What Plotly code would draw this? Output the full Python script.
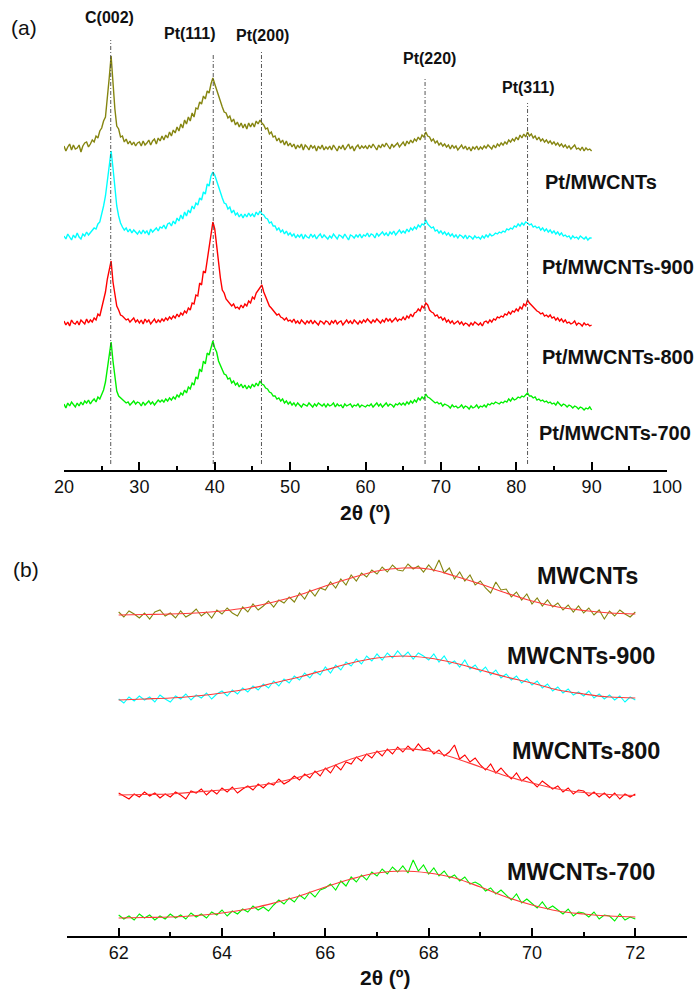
import plotly.graph_objects as go

# ---------------- Panel (a): full XRD patterns ----------------
TWO_THETA_A_START = 20.0
TWO_THETA_A_STEP = 0.25
SAMPLES_A = ["Pt/MWCNTs", "Pt/MWCNTs-900", "Pt/MWCNTs-800", "Pt/MWCNTs-700"]

I_PT_MWCNTS = [
    2, -3, 1, 4, -2, 3, -1, 0, 3, -4, 2, 5, 6, 1, 4, 8, 6, 12, 10, 17,
    20, 27, 31, 48, 70, 92, 60, 39, 22, 19, 11, 12, 6, 9, 4, 7, 3, 6, 2, 5,
    6, 2, 7, 3, 5, 8, 3, 7, 9, 4, 10, 7, 12, 8, 13, 10, 16, 12, 18, 15,
    21, 17, 24, 20, 28, 24, 31, 27, 35, 31, 40, 39, 46, 44, 52, 49, 57, 55, 64, 70,
    64, 58, 51, 45, 41, 36, 35, 30, 32, 26, 29, 23, 26, 21, 25, 20, 24, 19, 25, 21,
    25, 21, 27, 24, 28, 25, 23, 19, 20, 14, 16, 11, 12, 7, 10, 5, 8, 3, 7, 2,
    5, 1, 4, -1, 3, 0, 4, -2, 3, 1, -2, 3, 0, 2, -3, 2, -1, 3, -2, 1,
    -1, 2, -2, 3, 0, -3, 2, -1, 3, -2, 1, 4, -1, 2, -3, 1, 3, -1, 2, 0,
    2, -1, 3, 0, 4, 1, -2, 3, 0, 4, 1, 5, 2, -1, 4, 1, 3, 5, 1, 4,
    6, 2, 7, 4, 8, 5, 9, 7, 11, 8, 13, 11, 16, 12, 11, 7, 9, 5, 7, 3,
    5, 2, 4, 1, 3, -1, 3, 0, 2, -2, 1, 3, -1, 2, -2, 1, -3, 1, -1, 2,
    -2, 1, -1, 2, 0, 3, 1, -1, 3, 0, 4, 2, 5, 3, 6, 4, 8, 6, 9, 7,
    11, 8, 13, 10, 14, 11, 16, 12, 14, 10, 12, 8, 11, 7, 9, 6, 8, 5, 7, 4,
    6, 3, 5, 2, 4, 1, 3, 0, 2, -1, 1, 3, -1, 0, -2, 1, -3, 0, -2, -1,
    -3,
]
I_PT_MWCNTS_900 = [
    1, -2, 3, 0, -3, 2, -1, 4, 0, -2, 3, 1, 5, 2, 4, 7, 9, 8, 13, 15,
    22, 31, 41, 56, 72, 86, 69, 52, 31, 21, 14, 10, 7, 9, 5, 8, 4, 7, 5, 3,
    6, 3, 7, 4, 6, 2, 8, 5, 7, 9, 6, 10, 9, 12, 8, 13, 14, 11, 16, 13,
    19, 16, 22, 18, 25, 21, 27, 24, 31, 28, 34, 32, 39, 37, 45, 43, 53, 51, 61, 65,
    62, 56, 51, 43, 39, 34, 33, 28, 30, 24, 27, 22, 24, 20, 23, 19, 23, 20, 24, 21,
    23, 20, 25, 22, 26, 23, 22, 19, 18, 14, 15, 11, 11, 7, 9, 5, 7, 3, 6, 2,
    4, 1, 3, -1, 2, 0, 3, -2, 2, 0, -1, 3, 0, 2, -2, 1, 3, -1, 2, 0,
    -2, 1, -1, 3, 0, -2, 2, 1, -1, 3, 0, -3, 2, 1, -1, 2, 0, 3, -1, 2,
    1, 4, 0, 3, 2, -1, 4, 1, 3, 5, 2, 4, 1, 5, 3, 6, 2, 5, 7, 4,
    6, 4, 8, 5, 9, 7, 10, 8, 12, 10, 13, 12, 17, 13, 11, 9, 10, 6, 7, 4,
    6, 3, 5, 2, 4, 1, 3, 0, 2, -1, 2, 1, -1, 2, -2, 1, 0, -2, 1, -1,
    0, -2, 1, -1, 2, 0, 3, 1, 2, 4, 3, 5, 4, 6, 5, 8, 7, 9, 8, 11,
    10, 13, 11, 14, 12, 15, 14, 12, 13, 10, 11, 9, 10, 7, 9, 6, 8, 5, 7, 4,
    6, 3, 5, 2, 4, 1, 2, 0, 1, -2, 1, -1, 0, -2, 1, -1, -2, 0, -3, -1,
    -1,
]
I_PT_MWCNTS_800 = [
    2, -2, 1, -3, 3, 0, -1, 2, -2, 3, 1, -1, 4, 0, 3, 1, 5, 3, 9, 7,
    15, 23, 31, 44, 55, 62, 41, 29, 17, 13, 8, 7, 5, 3, 4, 1, 3, 5, 1, 3,
    0, 3, -1, 4, 1, 3, -1, 2, 4, 0, 3, 1, 4, 2, 5, 3, 6, 4, 7, 5,
    9, 6, 10, 8, 12, 10, 15, 13, 20, 19, 28, 27, 40, 38, 52, 50, 63, 72, 84, 101,
    94, 76, 57, 45, 33, 30, 24, 22, 20, 17, 19, 15, 16, 14, 18, 15, 19, 17, 22, 20,
    26, 24, 30, 33, 36, 38, 31, 26, 21, 17, 15, 13, 11, 8, 9, 6, 5, 3, 5, 2,
    3, 1, 4, 0, 2, -1, 3, 1, -1, 2, 0, 3, -1, 2, 0, -2, 2, 1, -1, 2,
    1, -2, 2, 0, 3, -1, 1, 2, -2, 1, 3, 0, 2, -1, 3, 1, -1, 2, 0, 3,
    1, 4, 2, 0, 3, 1, 4, 2, 0, 3, 1, 5, 2, 4, 1, 3, 5, 2, 4, 3,
    6, 3, 7, 5, 9, 6, 10, 11, 14, 12, 17, 15, 20, 18, 13, 11, 10, 7, 8, 5,
    6, 3, 5, 1, 3, 0, 2, -1, 1, 2, -1, 1, -2, 0, -1, -3, 0, -2, 1, -1,
    -2, 0, -3, 1, 2, 0, 3, 1, 4, 3, 6, 5, 7, 6, 9, 8, 11, 9, 12, 11,
    14, 12, 16, 14, 19, 17, 23, 20, 18, 15, 14, 12, 11, 9, 10, 7, 8, 6, 8, 5,
    6, 3, 5, 2, 4, 1, 3, 0, 1, -1, 0, 2, -2, 0, -1, -3, 0, -2, -1, -3,
    -2,
]
I_PT_MWCNTS_700 = [
    1, -3, 2, -1, 3, 0, -2, 2, -1, 3, 0, 4, 2, 5, 1, 4, 6, 3, 8, 6,
    11, 15, 23, 36, 51, 63, 44, 26, 14, 9, 7, 5, 4, 2, 3, 0, 2, 4, 1, 3,
    2, -1, 3, 0, 2, 4, 1, 3, 0, 2, 5, 3, 5, 3, 6, 4, 7, 5, 8, 6,
    10, 8, 12, 10, 15, 12, 18, 16, 22, 20, 28, 26, 36, 33, 44, 41, 52, 50, 58, 64,
    57, 53, 44, 40, 36, 31, 30, 26, 27, 22, 24, 20, 22, 18, 21, 17, 20, 16, 19, 17,
    21, 18, 22, 19, 24, 21, 20, 17, 16, 13, 12, 9, 9, 6, 7, 4, 6, 2, 4, 1,
    3, 0, 2, -1, 2, 0, -2, 1, 0, -1, 2, 0, -2, 1, -1, 2, 0, -1, 1, -2,
    1, -1, 0, 2, -2, 1, -1, 0, -3, 1, -1, 0, 1, -2, 0, -1, 1, -2, 0, -1,
    -2, 0, -1, 1, -2, 0, 2, -1, 1, -2, 0, 2, -1, 1, 0, -2, 1, 0, 2, 0,
    2, 0, 3, 1, 4, 2, 5, 3, 7, 5, 8, 6, 11, 8, 7, 5, 4, 2, 3, 1,
    2, -1, 1, 0, -1, -3, 0, -2, -1, -3, -2, 0, -3, -1, -2, -4, -1, -3, -2, 0,
    -3, -1, -2, 0, -2, 1, 0, 2, 1, 3, 2, 1, 3, 2, 4, 3, 6, 4, 7, 5,
    6, 8, 7, 9, 8, 10, 12, 9, 9, 7, 8, 5, 6, 4, 5, 3, 4, 2, 3, 1,
    2, 0, 3, 1, -1, 1, 0, -2, 0, -1, -3, -1, -2, -4, -2, -3, -5, -3, -4, -2,
    -5,
]
STACK_OFFSET_A = [322, 233, 147, 65]

PEAK_POS = [26.2, 39.8, 46.2, 67.9, 81.5]
PEAK_LABELS = ["C(002)", "Pt(111)", "Pt(200)", "Pt(220)", "Pt(311)"]

# ---------------- Panel (b): Pt(220) region with fits ----------------
TWO_THETA_B_START = 62.0
TWO_THETA_B_STEP = 0.1
FIT_B_STEP = 0.5
SAMPLES_B = ["MWCNTs", "MWCNTs-900", "MWCNTs-800", "MWCNTs-700"]

B_MWCNTS = [
    3, -2, 4, 1, -3, 2, -4, 3, 5, -1, 2, -3, 4, -2, 1, 6, -1, 3, -3, 5,
    1, 7, 2, -1, 8, 3, 11, 5, 9, 14, 8, 15, 12, 18, 13, 22, 16, 25, 19, 27,
    25, 33, 27, 36, 30, 40, 34, 42, 38, 45, 41, 48, 43, 50, 45, 44, 51, 46, 49, 43,
    50, 44, 55, 42, 47, 36, 43, 34, 40, 30, 34, 27, 22, 33, 25, 26, 18, 23, 15, 21,
    11, 17, 9, 15, 8, 12, 5, 10, 3, 9, 2, 7, 0, 5, -4, 4, -1, 5, 1, -2,
    3,
]
B_MWCNTS_900 = [
    1, -3, 3, -1, 4, 0, 3, -2, 5, 1, -2, 4, 1, 6, 0, 5, 2, 7, 1, 6,
    9, 4, 10, 6, 12, 8, 14, 10, 16, 12, 19, 14, 21, 17, 24, 20, 27, 22, 29, 25,
    33, 27, 35, 30, 38, 34, 41, 36, 44, 39, 46, 40, 47, 42, 49, 43, 48, 41, 47, 44,
    40, 46, 38, 44, 36, 39, 33, 40, 31, 35, 28, 33, 25, 30, 22, 26, 20, 24, 17, 21,
    15, 19, 12, 16, 9, 13, 7, 11, 5, 8, 4, 9, 2, 6, 1, 5, 0, 4, -2, 3,
    0,
]
B_MWCNTS_800 = [
    2, -1, -4, 1, -2, 3, -1, 2, -3, 1, -2, 3, 0, -4, 4, 2, 6, 0, 5, 1,
    7, 3, 8, 2, 6, 9, 5, 11, 7, 12, 10, 16, 11, 14, 19, 15, 21, 17, 24, 19,
    27, 22, 30, 25, 33, 31, 38, 34, 41, 37, 44, 39, 46, 41, 48, 43, 49, 44, 51, 45,
    47, 41, 45, 39, 43, 50, 36, 40, 33, 37, 30, 25, 31, 22, 27, 21, 16, 22, 14, 18,
    13, 8, 14, 10, 6, 9, 3, 7, 1, 5, 4, -1, 3, -2, 2, -3, 2, -4, 1, -2,
    1,
]
B_MWCNTS_700 = [
    3, -1, 2, -2, 4, 0, 3, -2, 2, -1, 4, 0, 3, -1, 5, 1, 4, 0, 6, 3,
    8, 2, 7, 4, 9, 6, 12, 8, 11, 7, 13, 18, 14, 20, 16, 23, 19, 26, 21, 28,
    30, 34, 28, 37, 32, 41, 36, 43, 38, 46, 42, 49, 44, 51, 46, 52, 45, 58, 47, 53,
    44, 50, 42, 47, 40, 43, 37, 41, 34, 36, 33, 27, 30, 24, 28, 23, 18, 24, 15, 19,
    14, 10, 16, 9, 12, 8, 4, 9, 2, 6, 5, 1, 6, -1, 3, 2, -3, 4, -2, 1,
    -1,
]
FIT_MWCNTS = [0, 0.5, 1, 2, 4, 7.5, 13, 20, 29, 37, 44, 47, 46, 39, 31, 22, 14, 8, 4.5, 2, 1]
FIT_MWCNTS_900 = [0, 1, 2, 4, 7, 11, 17, 23, 30, 37, 42, 44, 42, 37, 30, 23, 17, 10, 6, 3, 2]
FIT_MWCNTS_800 = [0, 0.5, 1, 3, 5, 8, 12, 18, 26, 36, 43, 46, 44, 37, 28, 19, 12, 6, 2.5, 0.5, -0.5]
FIT_MWCNTS_700 = [0, 0.5, 1, 2.5, 5, 9, 15, 22, 31, 39, 45, 47, 45, 40, 31, 21, 13, 7, 4, 2, 1]
STACK_OFFSET_B = [321, 236, 141, 18]

COLORS = ["#858510", "#00FFFF", "#FF0000", "#00F000"]
FIT_COLOR = "#FF3B3B"
FONT = "Liberation Sans, Arial, sans-serif"

W, H = 698, 992


def grid(start, step, n):
    return [round(start + step * i, 4) for i in range(n)]


fig = go.Figure()

series_a = [I_PT_MWCNTS, I_PT_MWCNTS_900, I_PT_MWCNTS_800, I_PT_MWCNTS_700]
xa = grid(TWO_THETA_A_START, TWO_THETA_A_STEP, len(I_PT_MWCNTS))
for name, ys, off, col in zip(SAMPLES_A, series_a, STACK_OFFSET_A, COLORS):
    fig.add_trace(go.Scatter(x=xa, y=[v + off for v in ys], mode="lines", name=name,
                             line=dict(color=col, width=1.4), xaxis="x", yaxis="y",
                             showlegend=False))

series_b = [B_MWCNTS, B_MWCNTS_900, B_MWCNTS_800, B_MWCNTS_700]
fits_b = [FIT_MWCNTS, FIT_MWCNTS_900, FIT_MWCNTS_800, FIT_MWCNTS_700]
xb = grid(TWO_THETA_B_START, TWO_THETA_B_STEP, len(B_MWCNTS))
xf = grid(TWO_THETA_B_START, FIT_B_STEP, len(FIT_MWCNTS))
for name, ys, fs, off, col in zip(SAMPLES_B, series_b, fits_b, STACK_OFFSET_B, COLORS):
    fig.add_trace(go.Scatter(x=xb, y=[v + off for v in ys], mode="lines", name=name,
                             line=dict(color=col, width=1.1), xaxis="x2", yaxis="y2",
                             showlegend=False))
    fig.add_trace(go.Scatter(x=xf, y=[v + off for v in fs], mode="lines", name=name + " fit",
                             line=dict(color=FIT_COLOR, width=1.2, shape="spline"),
                             xaxis="x2", yaxis="y2", showlegend=False))

# reference lines at the peak positions
LINE_TOPS = [430, 415, 420, 393, 367]
shapes = []
for p, top in zip(PEAK_POS, LINE_TOPS):
    shapes.append(dict(type="line", xref="x", yref="y", x0=p, x1=p, y0=6, y1=top,
                       line=dict(color="#444444", width=0.9, dash="4px,2px,1px,2px")))

annotations = []
LABEL_POS = [(26.1, 453), (36.7, 437), (46.4, 435), (68.5, 412), (81.5, 383)]
for txt, (lx, ly) in zip(PEAK_LABELS, LABEL_POS):
    annotations.append(dict(x=lx, y=ly, xref="x", yref="y", text="<b>%s</b>" % txt,
                            showarrow=False, font=dict(family=FONT, size=16, color="#111111"),
                            xanchor="center", yanchor="middle"))

SAMPLE_A_POS = [(83.5, 288), (83.1, 203), (83.2, 113), (82.8, 37)]
for txt, (lx, ly) in zip(SAMPLES_A, SAMPLE_A_POS):
    annotations.append(dict(x=lx, y=ly, xref="x", yref="y", text="<b>%s</b>" % txt,
                            showarrow=False, font=dict(family=FONT, size=20, color="#111111"),
                            xanchor="left", yanchor="middle"))

SAMPLE_B_POS = [(70.06, 360), (69.48, 280), (69.57, 185), (69.48, 64)]
for txt, (lx, ly) in zip(SAMPLES_B, SAMPLE_B_POS):
    annotations.append(dict(x=lx, y=ly, xref="x2", yref="y2", text="<b>%s</b>" % txt,
                            showarrow=False, font=dict(family=FONT, size=23.5, color="#111111"),
                            xanchor="left", yanchor="middle"))

annotations.append(dict(x=9 / W, y=1 - 28 / H, xref="paper", yref="paper", text="(a)",
                        showarrow=False, font=dict(family=FONT, size=21, color="#111111"),
                        xanchor="left", yanchor="middle"))
annotations.append(dict(x=11 / W, y=1 - 569 / H, xref="paper", yref="paper", text="(b)",
                        showarrow=False, font=dict(family=FONT, size=21, color="#111111"),
                        xanchor="left", yanchor="middle"))

# axis titles
annotations.append(dict(x=0.5 * (64 + 667) / W, y=1 - 512 / H, xref="paper", yref="paper",
                        text="<b>2θ (º)</b>", showarrow=False,
                        font=dict(family=FONT, size=21, color="#111111"),
                        xanchor="center", yanchor="middle"))
annotations.append(dict(x=0.5 * (67 + 687) / W + 8 / W, y=1 - 977 / H, xref="paper", yref="paper",
                        text="<b>2θ (º)</b>", showarrow=False,
                        font=dict(family=FONT, size=21, color="#111111"),
                        xanchor="center", yanchor="middle"))

axis_common = dict(showline=True, linecolor="black", linewidth=1.6, ticks="inside",
                   ticklen=8, tickwidth=1.6, tickcolor="black", showgrid=False,
                   zeroline=False, mirror=False,
                   tickfont=dict(family=FONT, size=18, color="#111111"))

fig.update_layout(
    width=W, height=H,
    margin=dict(l=0, r=0, t=0, b=0, autoexpand=False),
    paper_bgcolor="white", plot_bgcolor="white",
    showlegend=False,
    xaxis=dict(axis_common, domain=[64 / W, 667 / W], range=[20, 100], tick0=20, dtick=10,
               anchor="y",
               minor=dict(dtick=5, tick0=20, ticks="inside", ticklen=4, tickwidth=1.6,
                          tickcolor="black", showgrid=False)),
    yaxis=dict(domain=[1 - 470 / H, 1 - 10 / H], range=[0, 460], visible=False, anchor="x"),
    xaxis2=dict(axis_common, domain=[67 / W, 687 / W], range=[61, 73], tick0=62, dtick=2,
                anchor="y2",
                minor=dict(dtick=1, tick0=61, ticks="inside", ticklen=4, tickwidth=1.6,
                           tickcolor="black", showgrid=False)),
    yaxis2=dict(domain=[1 - 936 / H, 1 - 540 / H], range=[0, 396], visible=False, anchor="x2"),
    shapes=shapes,
    annotations=annotations,
)

fig.write_html("out.html")
